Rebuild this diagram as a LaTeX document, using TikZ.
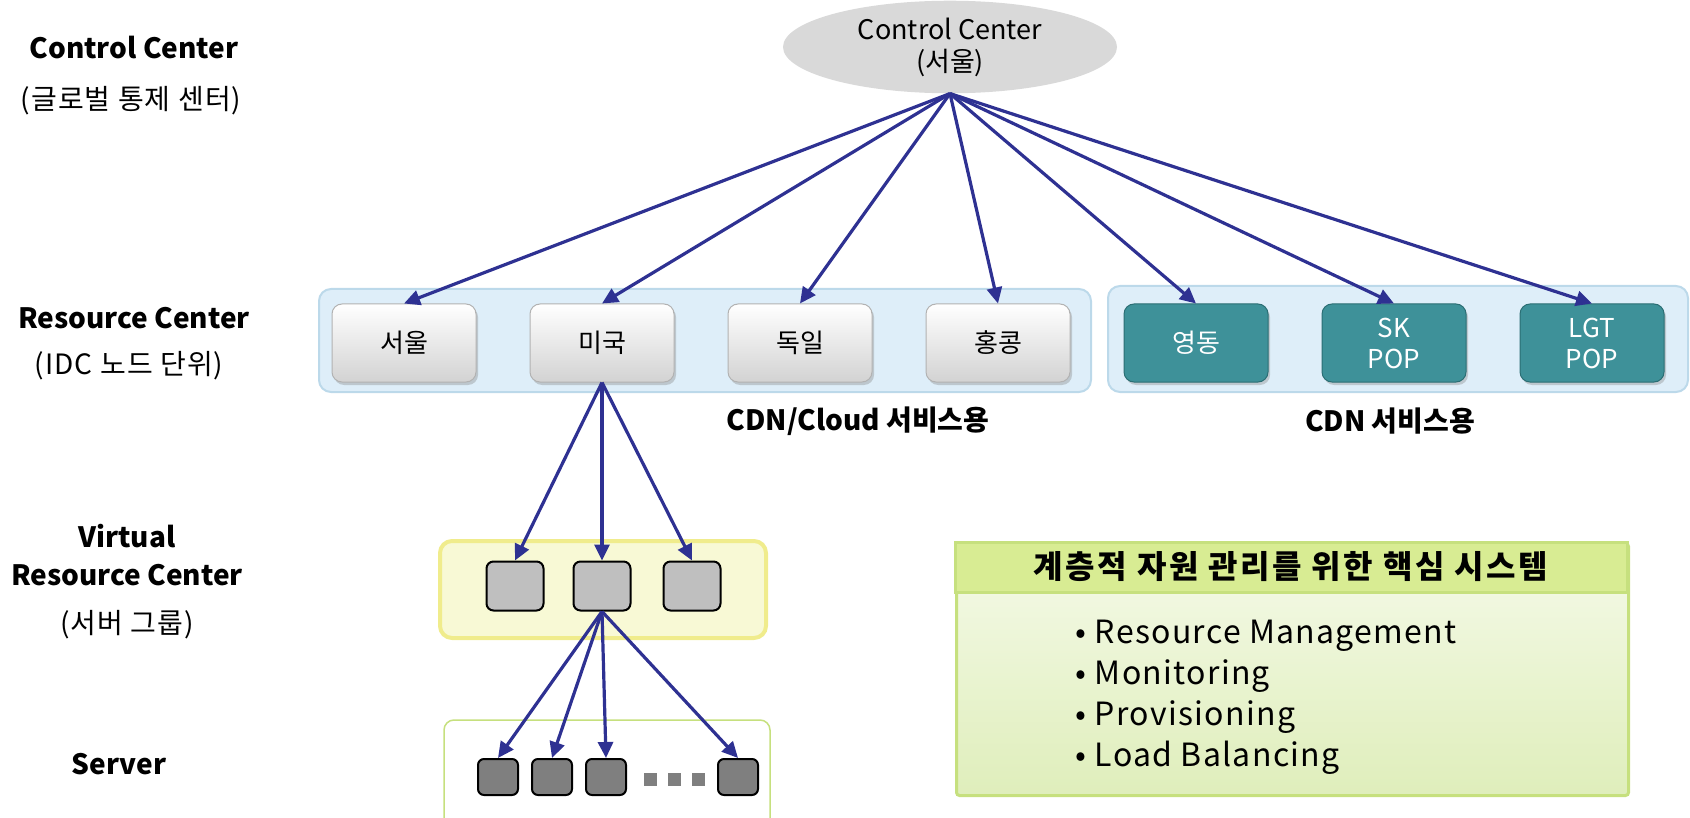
\documentclass[tikz,border=0pt]{standalone}
\usepackage{fontspec}
\setmainfont{Noto Sans CJK KR}
\newfontfamily\widefont[LetterSpace=4]{Noto Sans CJK KR}
\newfontfamily\headfont[LetterSpace=8]{Noto Sans CJK KR}
\usepackage{xcolor}
\usepackage{tikz}
\usetikzlibrary{arrows.meta,shapes.geometric,shadows}

\definecolor{arrowblue}{HTML}{2E3192}
\definecolor{bluebox}{HTML}{DEEEF9}
\definecolor{blueline}{HTML}{BCD9EA}
\definecolor{tealbox}{HTML}{3E9199}
\definecolor{tealline}{HTML}{2B6E74}
\definecolor{yellowbox}{HTML}{F8F9D5}
\definecolor{yellowline}{HTML}{F0EC8C}
\definecolor{vrcgrey}{HTML}{BFBFBF}
\definecolor{srvgrey}{HTML}{7F7F7F}
\definecolor{ellgrey}{HTML}{D9D9D9}
\definecolor{greenline}{HTML}{C6E07E}
\definecolor{headfill}{HTML}{D8EC93}
\definecolor{bodytop}{HTML}{F5FAE9}
\definecolor{bodybot}{HTML}{DFEEBB}

\begin{document}
\begin{tikzpicture}[x=1pt, y=-1pt, node distance=198pt, semithick]
\tikzstyle{every node}=[font=\fontsize{26}{31}\selectfont]
\tikzstyle{idc}=[draw=gray!60, line width=1pt, rounded corners=10pt, minimum width=144pt, minimum height=78pt, top color=white, bottom color=gray!35, drop shadow={opacity=0.35, shadow xshift=2pt, shadow yshift=-3pt}]
\tikzstyle{pop}=[draw=tealline, line width=1pt, rounded corners=10pt, minimum width=144pt, minimum height=78pt, fill=tealbox, text=white, align=center, drop shadow={opacity=0.35, shadow xshift=2pt, shadow yshift=-3pt}]
\tikzstyle{vrc}=[draw, line width=2pt, rounded corners=7pt, fill=vrcgrey, minimum width=57pt, minimum height=49pt]
\tikzstyle{srv}=[draw, line width=2pt, rounded corners=6pt, fill=srvgrey, minimum width=40pt, minimum height=36pt]
\tikzstyle{srvdot}=[fill=srvgrey, minimum size=13pt, inner sep=0pt]
\tikzstyle{arr}=[draw=arrowblue, line width=3.2pt, -{Triangle[length=16pt,width=15pt]}]
\tikzstyle{lvl}=[font=\bfseries\fontsize{28}{38}\selectfont, align=center]
\tikzstyle{lvlsub}=[font=\widefont\fontsize{28}{34}\selectfont]
\tikzstyle{grp}=[font=\bfseries\fontsize{28}{32}\selectfont]

\useasboundingbox (0,0) rectangle (1690,818);

% group frames
\draw[draw=blueline, fill=bluebox, line width=2pt, rounded corners=12pt] (319,289) rectangle (1091,392);
\draw[draw=blueline, fill=bluebox, line width=2pt, rounded corners=12pt] (1108,286) rectangle (1688,392);
\draw[draw=yellowline, fill=yellowbox, line width=4pt, rounded corners=12pt] (440,541) rectangle (766,638);
\draw[draw=greenline, line width=1.5pt, rounded corners=10pt] (444,720) rectangle (770,830);

% level names
\node[lvl] (cctitle) at (134,48) {Control Center};
\node[lvlsub] (ccsub) at (131,101) {(글로벌 통제 센터)};
\node[lvl] (rctitle) at (134,318) {Resource Center};
\node[lvlsub] (rcsub) at (129,366) {(IDC 노드 단위)};
\node[lvl] (vrctitle) at (127,555) {Virtual\\Resource Center};
\node[lvlsub] (vrcsub) at (127,625) {(서버 그룹)};
\node[lvl] (srvtitle) at (119,764) {Server};

% control center
\node[ellipse, fill=ellgrey, minimum width=334pt, minimum height=92pt, align=center, font=\fontsize{27}{32}\selectfont] (cc) at (950,47) {Control Center\\(서울)};

% resource centers
\node[idc] (seoul) at (404,343) {서울};
\node[idc] (usa) [right of=seoul] {미국};
\node[idc] (ger) [right of=usa] {독일};
\node[idc] (hk) [right of=ger] {홍콩};
\node[pop] (yd) [right of=hk] {영동};
\node[pop] (sk) [right of=yd] {SK\\POP};
\node[pop] (lgt) [right of=sk] {LGT\\POP};

\node[grp] (cloudlbl) at (858,421) {CDN/Cloud 서비스용};
\node[grp] (cdnlbl) at (1390,421) {CDN 서비스용};

% virtual resource centers
\node[vrc] (v2) at (602,586) {};
\node[vrc] (v1) [left of=v2, node distance=87pt] {};
\node[vrc] (v3) [right of=v2, node distance=90pt] {};

% servers
\node[srv] (s1) at (498,777) {};
\node[srv] (s2) [right of=s1, node distance=54pt] {};
\node[srv] (s3) [right of=s2, node distance=54pt] {};
\node[srvdot] (d1) at (650,779) {};
\node[srvdot] (d2) [right of=d1, node distance=24pt] {};
\node[srvdot] (d3) [right of=d2, node distance=24pt] {};
\node[srv] (s4) at (738,777) {};

% core system panel
\node[draw=greenline, line width=3pt, top color=bodytop, bottom color=bodybot, rounded corners=3pt, minimum width=672pt, minimum height=252pt, anchor=north west] (panel) at (955,542) {};
\node[draw=greenline, line width=3pt, fill=headfill, minimum width=672pt, minimum height=50pt, font=\headfont\bfseries\fontsize{32}{36}\selectfont] (head) at (1291,567) {계층적 자원 관리를 위한 핵심 시스템};
\node[anchor=west, align=left, font=\widefont\fontsize{32}{41}\selectfont] (items) at (1072,697) {•\ Resource Management\\•\ Monitoring\\•\ Provisioning\\•\ Load Balancing};

\path   (cc.south)  edge[arr]   (seoul.north)
                    edge[arr]   (usa.north)
                    edge[arr]   (ger.north)
                    edge[arr]   (hk.north)
                    edge[arr]   (yd.north)
                    edge[arr]   (sk.north)
                    edge[arr]   (lgt.north)
        (usa.south) edge[arr]   (v1.north)
                    edge[arr]   (v2.north)
                    edge[arr]   (v3.north)
        (v2.south)  edge[arr]   (s1.north)
                    edge[arr]   (s2.north)
                    edge[arr]   (s3.north)
                    edge[arr]   (s4.north);

\end{tikzpicture}
\end{document}
